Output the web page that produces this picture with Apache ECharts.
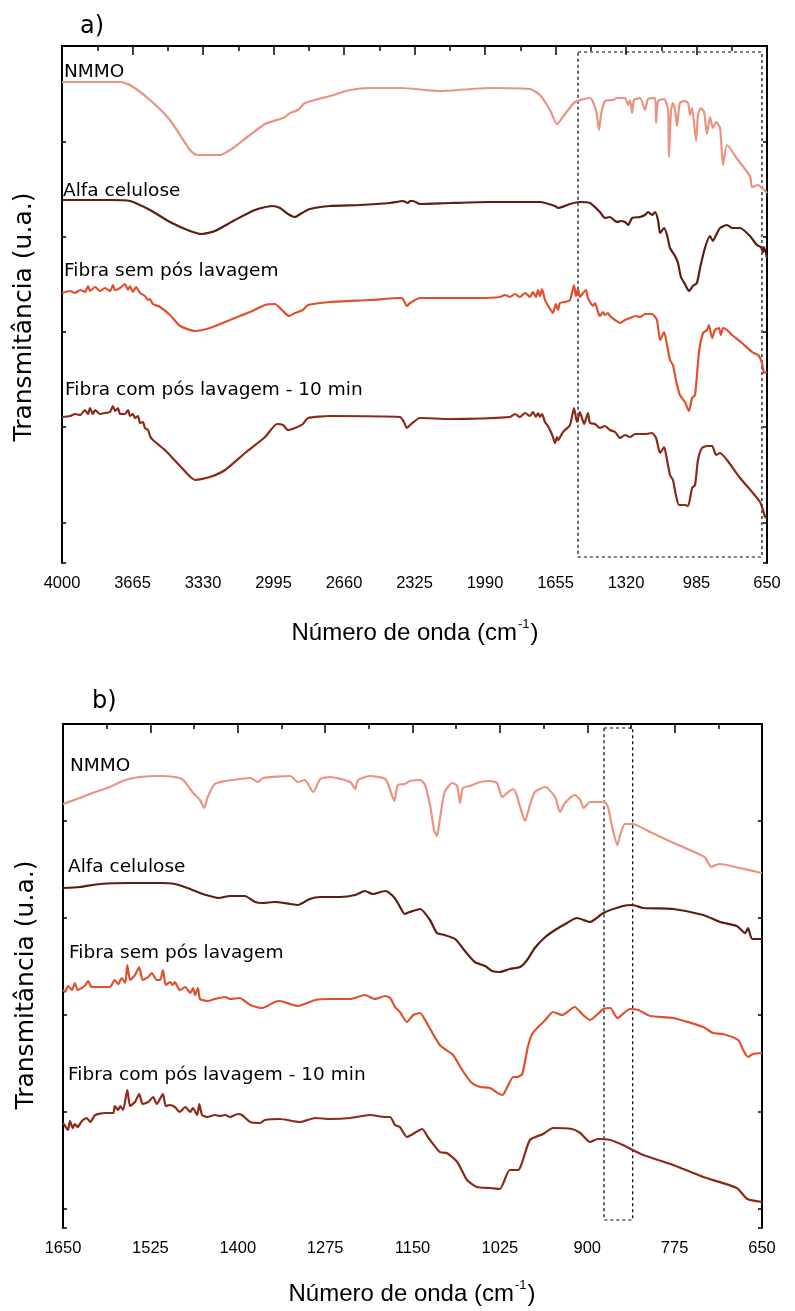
<!DOCTYPE html>
<html><head><meta charset="utf-8">
<script src="https://cdn.jsdelivr.net/npm/echarts/dist/echarts.min.js"></script>
<style>html,body{margin:0;padding:0;background:#fff}#c{width:795px;height:1311px}</style>
</head><body><div id="c"></div>
<script>
// ---------- data (wavenumber cm-1, transmittance u.a.) ----------
const seriesNames = ['NMMO', 'Alfa celulose', 'Fibra sem pós lavagem', 'Fibra com pós lavagem - 10 min'];
const tickLabelsA = [4000, 3665, 3330, 2995, 2660, 2325, 1990, 1655, 1320, 985, 650];
const tickLabelsB = [1650, 1525, 1400, 1275, 1150, 1025, 900, 775, 650];
const boxA = [1548, 674, 6, 511];
const boxB = [876, 835, 8, 500];

const nmmoA = [[4000,481],[3724,481],[3677,478],[3582,463],[3487,443],[3392,413],[3358,408],[3249,408],[3187,415],[3107,428],[3035,439],[2964,444],[2940,446],[2917,450],[2879,453],[2845,460],[2727,467],[2631,473],[2536,475],[2394,475],[2204,472],[1966,475],[1776,474],[1729,468],[1681,453],[1648,439],[1610,449],[1562,461],[1491,465],[1463,453],[1448,433],[1439,448],[1420,462],[1382,463],[1363,465],[1325,465],[1310,458],[1301,463],[1291,450],[1282,463],[1253,465],[1230,453],[1215,464],[1182,465],[1177,440],[1168,462],[1139,464],[1120,453],[1116,406],[1106,453],[1097,460],[1087,453],[1078,437],[1064,460],[1040,462],[1025,460],[1016,448],[1006,455],[987,422],[978,448],[964,455],[949,451],[935,429],[921,446],[907,435],[892,441],[873,435],[859,398],[840,418],[788,403],[731,387],[721,376],[693,378],[650,370]];
const alfaA = [[4000,363],[3772,363],[3677,362],[3582,353],[3487,341],[3392,332],[3335,329],[3273,332],[3178,343],[3083,353],[3002,357],[2964,355],[2926,349],[2893,346],[2860,350],[2822,354],[2727,357],[2584,358],[2441,360],[2380,362],[2356,360],[2346,362],[2332,362],[2299,359],[2156,360],[1966,361],[1729,361],[1657,357],[1643,355],[1586,359],[1539,361],[1491,360],[1444,351],[1420,345],[1396,346],[1372,342],[1358,341],[1348,342],[1325,341],[1310,338],[1291,345],[1253,346],[1230,348],[1215,351],[1196,348],[1182,351],[1168,343],[1158,330],[1139,335],[1125,328],[1111,315],[1087,307],[1073,300],[1059,286],[1040,279],[1021,272],[1002,277],[983,280],[968,295],[945,315],[921,327],[907,322],[892,328],[873,335],[840,338],[816,335],[778,335],[731,327],[698,318],[679,316],[669,311],[664,316],[650,305]];
const semA = [[4000,270],[3962,272],[3938,270],[3914,273],[3891,271],[3876,277],[3867,272],[3843,276],[3819,272],[3796,275],[3772,272],[3758,278],[3748,273],[3724,275],[3701,279],[3686,273],[3677,277],[3663,271],[3648,276],[3629,270],[3606,267],[3591,263],[3582,264],[3568,259],[3534,256],[3487,248],[3439,237],[3368,232],[3297,235],[3202,243],[3107,251],[3035,258],[2988,259],[2955,253],[2921,247],[2893,250],[2855,253],[2831,258],[2727,261],[2536,263],[2394,265],[2380,264],[2361,257],[2346,260],[2299,265],[2014,265],[1919,266],[1895,268],[1871,266],[1847,269],[1824,266],[1800,270],[1776,266],[1762,271],[1748,266],[1738,273],[1729,267],[1719,274],[1705,263],[1695,259],[1681,254],[1667,250],[1653,259],[1643,253],[1634,260],[1610,261],[1586,263],[1567,278],[1558,267],[1548,274],[1539,266],[1524,270],[1510,273],[1501,265],[1491,261],[1477,257],[1467,260],[1453,251],[1444,247],[1429,251],[1420,248],[1406,250],[1396,247],[1372,243],[1348,240],[1325,243],[1301,245],[1277,247],[1253,246],[1230,249],[1196,249],[1173,243],[1158,223],[1139,231],[1125,218],[1111,203],[1097,198],[1083,183],[1064,168],[1040,161],[1021,152],[1006,165],[992,168],[973,211],[954,230],[935,233],[926,238],[911,225],[897,233],[878,235],[869,228],[859,235],[840,233],[816,228],[769,220],[721,211],[688,207],[674,200],[664,190],[650,191]];
const comA = [[4000,146],[3962,147],[3938,149],[3914,148],[3891,153],[3876,149],[3867,155],[3853,149],[3843,153],[3819,149],[3796,150],[3772,151],[3758,157],[3748,152],[3734,155],[3724,149],[3701,149],[3686,153],[3677,147],[3663,149],[3653,145],[3639,147],[3629,140],[3615,141],[3606,135],[3591,133],[3582,127],[3568,123],[3511,113],[3439,97],[3368,83],[3297,86],[3225,93],[3130,110],[3035,126],[2978,139],[2950,138],[2926,133],[2893,135],[2855,139],[2831,145],[2727,147],[2394,146],[2375,141],[2361,135],[2346,138],[2299,145],[2156,144],[1871,146],[1847,149],[1824,146],[1800,150],[1776,147],[1762,151],[1748,146],[1738,150],[1729,146],[1719,149],[1705,141],[1691,137],[1681,133],[1667,126],[1657,120],[1648,126],[1643,123],[1619,131],[1586,138],[1567,155],[1553,141],[1539,151],[1519,139],[1501,150],[1491,140],[1467,139],[1444,135],[1420,137],[1396,133],[1372,131],[1348,125],[1325,128],[1301,126],[1277,129],[1230,129],[1196,130],[1177,125],[1158,110],[1139,116],[1125,103],[1111,88],[1097,83],[1083,68],[1068,58],[1040,58],[1025,57],[1006,75],[992,78],[978,103],[959,115],[935,117],[911,117],[892,108],[873,110],[840,103],[778,85],[721,71],[683,61],[669,53],[659,46],[650,45]];

const nmmoB = [[1650,424],[1626,430],[1604,436],[1583,441],[1561,448],[1540,451],[1511,452],[1490,451],[1478,448],[1465,436],[1454,428],[1448,420],[1443,431],[1433,444],[1418,447],[1397,449],[1382,450],[1371,446],[1364,450],[1325,452],[1314,446],[1304,448],[1292,436],[1282,449],[1268,451],[1239,446],[1232,439],[1228,448],[1211,452],[1189,449],[1182,438],[1176,427],[1171,443],[1161,444],[1154,447],[1139,448],[1132,443],[1125,423],[1119,398],[1115,392],[1111,408],[1104,436],[1093,445],[1086,442],[1082,425],[1078,440],[1068,442],[1053,446],[1039,447],[1029,445],[1022,431],[1018,433],[1013,436],[1006,439],[1001,433],[996,421],[989,407],[982,423],[975,436],[960,441],[946,431],[939,416],[932,425],[918,433],[910,428],[905,420],[896,426],[875,426],[870,420],[865,403],[857,383],[853,393],[846,404],[835,404],[810,396],[786,388],[763,381],[732,371],[727,365],[722,361],[716,363],[710,364],[682,360],[650,355]];
const alfaB = [[1650,340],[1626,341],[1597,344],[1554,345],[1511,345],[1490,344],[1468,339],[1454,335],[1440,332],[1428,330],[1411,332],[1390,332],[1375,326],[1365,325],[1347,326],[1325,324],[1314,323],[1297,329],[1282,331],[1254,331],[1232,333],[1218,337],[1207,334],[1189,337],[1178,332],[1171,325],[1161,314],[1154,316],[1139,319],[1125,308],[1115,295],[1104,293],[1089,289],[1075,277],[1061,266],[1046,262],[1036,257],[1025,256],[1011,259],[996,261],[986,268],[975,280],[960,291],[946,298],[929,305],[915,310],[896,306],[877,315],[849,322],[835,323],[820,320],[777,319],[734,313],[710,306],[686,302],[674,295],[670,300],[664,289],[650,289]];
const semB = [[1650,238],[1647,236],[1643,242],[1637,238],[1633,245],[1629,238],[1619,242],[1614,247],[1609,241],[1583,241],[1576,248],[1571,244],[1566,250],[1561,245],[1558,263],[1554,248],[1547,253],[1541,261],[1536,248],[1528,251],[1523,255],[1516,248],[1511,248],[1507,258],[1503,243],[1497,246],[1493,243],[1490,246],[1483,238],[1475,241],[1468,235],[1464,240],[1461,233],[1457,240],[1454,229],[1443,227],[1433,229],[1418,231],[1411,229],[1397,230],[1390,227],[1382,223],[1365,220],[1347,226],[1340,227],[1325,224],[1314,222],[1289,228],[1268,229],[1239,229],[1218,233],[1204,229],[1189,232],[1182,230],[1175,221],[1168,216],[1158,206],[1149,213],[1139,215],[1132,208],[1111,183],[1092,173],[1079,158],[1065,145],[1053,141],[1039,140],[1028,135],[1021,133],[1015,140],[1006,151],[1001,151],[993,154],[985,181],[978,195],[960,208],[949,216],[936,213],[918,221],[906,213],[896,208],[877,219],[867,220],[857,210],[839,219],[827,218],[810,212],[777,210],[734,201],[720,195],[706,194],[684,188],[677,178],[670,171],[663,174],[650,175]];
const comB = [[1650,105],[1647,102],[1643,98],[1640,107],[1636,100],[1633,104],[1629,101],[1623,107],[1616,110],[1611,106],[1604,113],[1590,115],[1578,115],[1576,122],[1571,118],[1568,122],[1564,118],[1558,138],[1554,122],[1547,126],[1541,134],[1536,124],[1528,126],[1521,131],[1516,124],[1507,134],[1503,122],[1497,123],[1490,121],[1483,116],[1475,121],[1468,116],[1464,120],[1458,113],[1455,124],[1451,113],[1443,111],[1433,113],[1425,112],[1418,113],[1411,111],[1400,114],[1394,113],[1382,106],[1368,105],[1361,108],[1340,109],[1311,106],[1289,110],[1268,109],[1239,110],[1211,113],[1189,111],[1182,111],[1175,103],[1168,101],[1158,91],[1136,99],[1128,91],[1111,76],[1101,75],[1086,66],[1072,48],[1058,41],[1039,40],[1025,39],[1011,58],[999,58],[982,88],[963,94],[949,100],[922,99],[910,95],[896,86],[885,89],[867,88],[849,83],[820,73],[777,63],[734,51],[686,40],[671,29],[650,26]];

// ---------- styling ----------
const colors = ['#EA9381', '#5C1E12', '#E0502D', '#8C2A1A'];
const ink = '#000';

function tickAxisX(gi, pos, labels, showLabels) {
  const n = labels.length - 1;
  return {
    gridIndex: gi, type: 'value', position: pos, min: 0, max: n, interval: 1,
    axisLine: { show: true, lineStyle: { color: ink, width: pos === 'bottom' ? 2 : 1.5 } },
    axisTick: { show: true, inside: pos !== 'bottom', length: pos === 'bottom' ? 9 : 4, lineStyle: { color: ink, width: 1.5 } },
    minorTick: { show: true, splitNumber: 2, length: pos === 'bottom' ? 5 : 4, lineStyle: { color: ink, width: 1.5 } },
    axisLabel: { show: showLabels, margin: 12, color: ink, fontFamily: 'Liberation Sans', fontSize: 16.5,
      formatter: v => String(labels[Math.round(v)]) },
    splitLine: { show: false }, minorSplitLine: { show: false }
  };
}
function tickAxisY(gi, pos, max) {
  return {
    gridIndex: gi, type: 'value', position: pos, inverse: true, min: 0, max: max, interval: 1,
    axisLine: { show: true, lineStyle: { color: ink, width: 2 } },
    axisTick: { show: true, inside: true, length: 4, lineStyle: { color: ink, width: 1.5 } },
    axisLabel: { show: false }, splitLine: { show: false }
  };
}
function line(name, data, color, xi, yi, extra) {
  return Object.assign({
    name: name, type: 'line', data: data, xAxisIndex: xi, yAxisIndex: yi,
    showSymbol: false, smooth: 0.2, silent: true,
    lineStyle: { color: color, width: 2.2 }, itemStyle: { color: color }
  }, extra || {});
}
function box(b) {
  return { silent: true,
    itemStyle: { color: 'rgba(0,0,0,0)', borderColor: '#000', borderWidth: 1.2, borderType: [3, 3] },
    data: [[{ xAxis: b[0], yAxis: b[3] }, { xAxis: b[1], yAxis: b[2] }]] };
}
function label(text, x, y, size, extra) {
  return Object.assign({ type: 'text', x: x, y: y, silent: true,
    style: { text: text, fill: '#000', font: size + 'px "DejaVu Sans"', textAlign: 'left', textVerticalAlign: 'middle' } }, extra || {});
}
function yTitle(x, y) {
  return { type: 'text', x: x, y: y, rotation: Math.PI / 2, silent: true,
    style: { text: 'Transmitância (u.a.)', fill: '#000', font: '25px "DejaVu Sans"', textAlign: 'center', textVerticalAlign: 'middle' } };
}
function xTitle(x, y) {
  return { type: 'text', x: x, y: y, silent: true,
    style: { text: 'Número de onda (cm{sup|-1})', fill: '#000', font: '24px "Liberation Sans"', textAlign: 'center', textVerticalAlign: 'middle',
      rich: { sup: { fontSize: 13, fontFamily: 'Liberation Sans', verticalAlign: 'top', lineHeight: 30, padding: [0, 1, 0, 1], fill: '#000' } } } };
}

const chart = echarts.init(document.getElementById('c'), null, { renderer: 'canvas' });
chart.setOption({
  animation: false,
  backgroundColor: '#fff',
  grid: [
    { left: 62, top: 46, width: 705, height: 517 },
    { left: 63, top: 724, width: 699, height: 504 }
  ],
  xAxis: [
    { gridIndex: 0, type: 'value', min: 650, max: 4000, inverse: true, show: false },
    tickAxisX(0, 'bottom', tickLabelsA, true),
    tickAxisX(0, 'top', tickLabelsA, false),
    { gridIndex: 1, type: 'value', min: 650, max: 1650, inverse: true, show: false },
    tickAxisX(1, 'bottom', tickLabelsB, true),
    tickAxisX(1, 'top', tickLabelsB, false)
  ],
  yAxis: [
    { gridIndex: 0, type: 'value', min: 0, max: 517, show: false },
    tickAxisY(0, 'left', 517 / 95.3),
    tickAxisY(0, 'right', 517 / 95.3),
    { gridIndex: 1, type: 'value', min: 0, max: 504, show: false },
    tickAxisY(1, 'left', 504 / 97),
    tickAxisY(1, 'right', 504 / 97)
  ],
  series: [
    line(seriesNames[0], nmmoA, colors[0], 0, 0, { markArea: box(boxA) }),
    line(seriesNames[1], alfaA, colors[1], 0, 0),
    line(seriesNames[2], semA, colors[2], 0, 0),
    line(seriesNames[3], comA, colors[3], 0, 0),
    line(seriesNames[0], nmmoB, colors[0], 3, 3, { markArea: box(boxB) }),
    line(seriesNames[1], alfaB, colors[1], 3, 3),
    line(seriesNames[2], semB, colors[2], 3, 3),
    line(seriesNames[3], comB, colors[3], 3, 3)
  ],
  graphic: [
    label('a)', 80, 27, 24),
    label('b)', 92, 702, 24),
    label(seriesNames[0], 64, 72.5, 18.5),
    label(seriesNames[1], 63, 191, 18.5),
    label(seriesNames[2], 64, 271, 18.5),
    label(seriesNames[3], 65, 390, 18.5),
    label(seriesNames[0], 70, 766, 18.5),
    label(seriesNames[1], 68, 867.5, 18.5),
    label(seriesNames[2], 69, 953, 18.5),
    label(seriesNames[3], 68, 1075, 18.5),
    yTitle(24, 317),
    yTitle(26, 985),
    xTitle(415, 633),
    xTitle(412, 1294)
  ]
});
</script></body></html>
